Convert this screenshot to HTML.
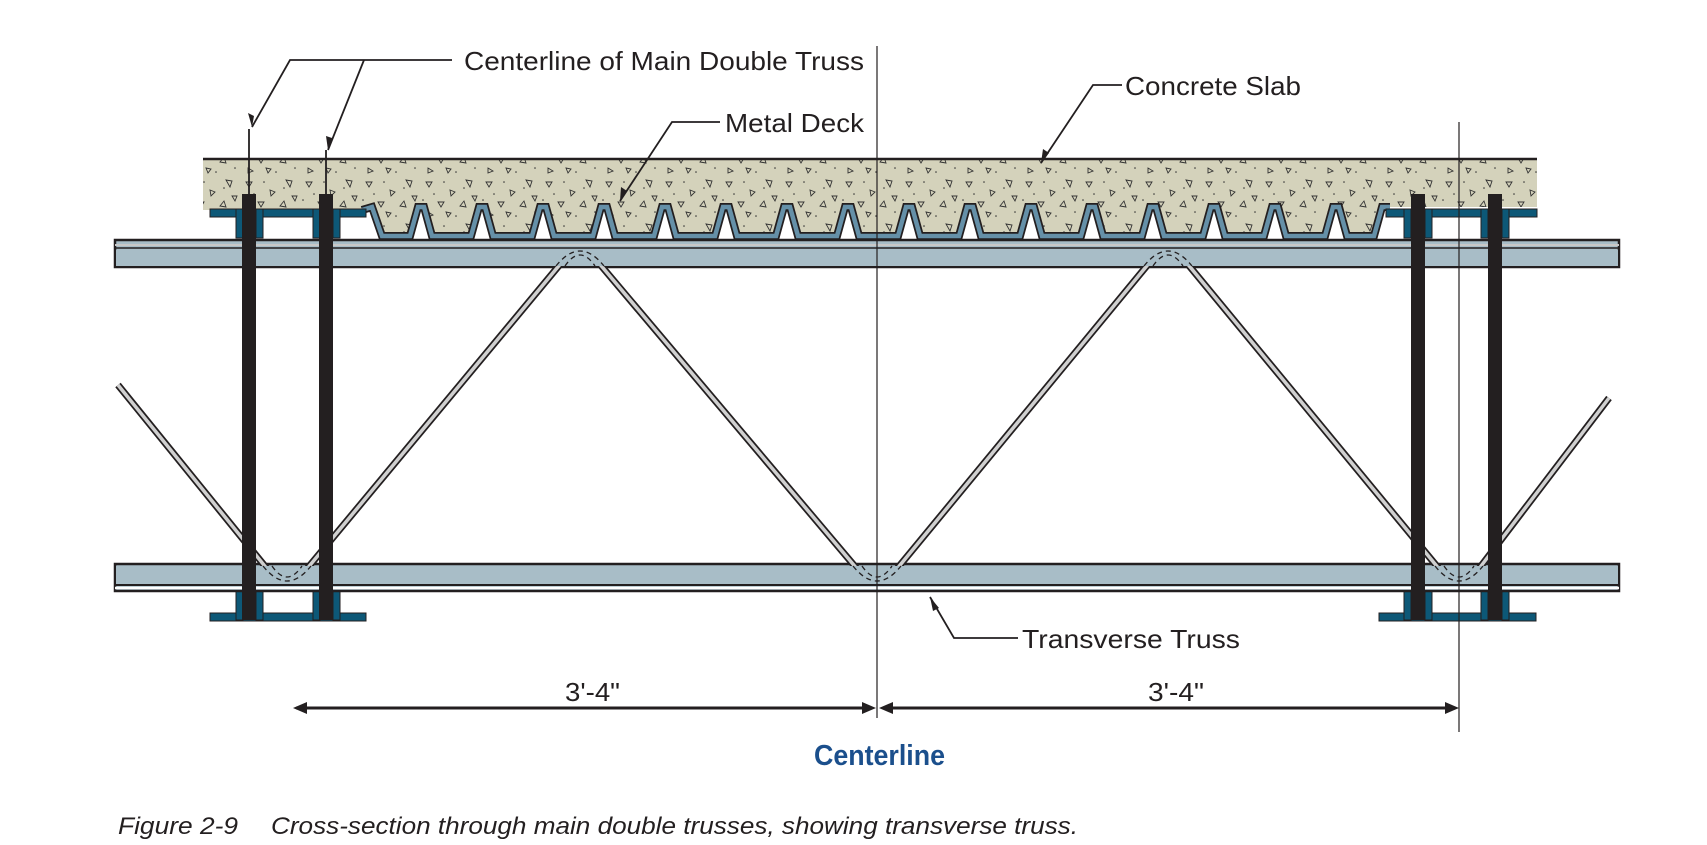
<!DOCTYPE html>
<html><head><meta charset="utf-8"><style>
html,body{margin:0;padding:0;background:#fff;}
svg{display:block;}
text{font-family:"Liberation Sans",sans-serif;}
</style></head><body>
<svg width="1707" height="845" viewBox="0 0 1707 845" xmlns="http://www.w3.org/2000/svg">
<defs>
<pattern id="conc" width="60" height="44" patternUnits="userSpaceOnUse">
<rect width="60" height="44" fill="#d4d2bb"/>
<path d="M6 6l6 0-3 5z M30 14l5 2-4 4z M46 4l6 1-2 6z M18 26l6 0-3 5z M40 30l4-5 2 6z M8 36l5 3-5 2z M52 20l5 0-2 5z M26 36l5 1-3 4z" fill="none" stroke="#333" stroke-width="0.9"/>
<circle cx="24" cy="6" r="0.8" fill="#333"/><circle cx="14" cy="18" r="0.8" fill="#333"/><circle cx="36" cy="40" r="0.8" fill="#333"/><circle cx="55" cy="36" r="0.8" fill="#333"/><circle cx="3" cy="24" r="0.8" fill="#333"/><circle cx="44" cy="12" r="0.8" fill="#333"/>
</pattern>
</defs>
<!-- slab -->
<rect x="203" y="159" width="1334" height="78" fill="url(#conc)"/>
<line x1="203" y1="159" x2="1537" y2="159" stroke="#231f20" stroke-width="2.5"/>
<!-- white under deck -->
<path d="M362 210 L372 207 L382 236 L410 236 L418 207 L424 207 L432 236 L471 236 L479 207 L485 207 L493 236 L532 236 L540 207 L546 207 L554 236 L593 236 L601 207 L607 207 L615 236 L654 236 L662 207 L668 207 L676 236 L715 236 L723 207 L729 207 L737 236 L776 236 L784 207 L790 207 L798 236 L837 236 L845 207 L851 207 L859 236 L898 236 L906 207 L912 207 L920 236 L959 236 L967 207 L973 207 L981 236 L1020 236 L1028 207 L1034 207 L1042 236 L1081 236 L1089 207 L1095 207 L1103 236 L1142 236 L1150 207 L1156 207 L1164 236 L1203 236 L1211 207 L1217 207 L1225 236 L1264 236 L1272 207 L1278 207 L1286 236 L1325 236 L1333 207 L1339 207 L1347 236 L1374 236 L1382 207 L1390 207 L1540 207 L1540 240 L200 240 L200 210 Z" fill="#fff"/>
<g fill="none" stroke-linejoin="miter">
<path d="M362 210 L372 207 L382 236 L410 236 L418 207 L424 207 L432 236 L471 236 L479 207 L485 207 L493 236 L532 236 L540 207 L546 207 L554 236 L593 236 L601 207 L607 207 L615 236 L654 236 L662 207 L668 207 L676 236 L715 236 L723 207 L729 207 L737 236 L776 236 L784 207 L790 207 L798 236 L837 236 L845 207 L851 207 L859 236 L898 236 L906 207 L912 207 L920 236 L959 236 L967 207 L973 207 L981 236 L1020 236 L1028 207 L1034 207 L1042 236 L1081 236 L1089 207 L1095 207 L1103 236 L1142 236 L1150 207 L1156 207 L1164 236 L1203 236 L1211 207 L1217 207 L1225 236 L1264 236 L1272 207 L1278 207 L1286 236 L1325 236 L1333 207 L1339 207 L1347 236 L1374 236 L1382 207 L1390 207" stroke="#231f20" stroke-width="8"/>
<path d="M362 210 L372 207 L382 236 L410 236 L418 207 L424 207 L432 236 L471 236 L479 207 L485 207 L493 236 L532 236 L540 207 L546 207 L554 236 L593 236 L601 207 L607 207 L615 236 L654 236 L662 207 L668 207 L676 236 L715 236 L723 207 L729 207 L737 236 L776 236 L784 207 L790 207 L798 236 L837 236 L845 207 L851 207 L859 236 L898 236 L906 207 L912 207 L920 236 L959 236 L967 207 L973 207 L981 236 L1020 236 L1028 207 L1034 207 L1042 236 L1081 236 L1089 207 L1095 207 L1103 236 L1142 236 L1150 207 L1156 207 L1164 236 L1203 236 L1211 207 L1217 207 L1225 236 L1264 236 L1272 207 L1278 207 L1286 236 L1325 236 L1333 207 L1339 207 L1347 236 L1374 236 L1382 207 L1390 207" stroke="#6590a8" stroke-width="4.5"/>
</g>
<g fill="#0d5877" stroke="#231f20" stroke-width="1">
<rect x="210" y="209" width="156" height="8"/>
<rect x="236" y="209" width="7" height="29"/><rect x="256" y="209" width="7" height="29"/>
<rect x="313" y="209" width="7" height="29"/><rect x="333" y="209" width="7" height="29"/>
<rect x="1386" y="209" width="151" height="8"/>
<rect x="1404" y="209" width="7" height="29"/><rect x="1425" y="209" width="7" height="29"/>
<rect x="1481" y="209" width="7" height="29"/><rect x="1502" y="209" width="7" height="29"/>
<rect x="210" y="613" width="156" height="8"/>
<rect x="236" y="590" width="7" height="30"/><rect x="256" y="590" width="7" height="30"/>
<rect x="313" y="590" width="7" height="30"/><rect x="333" y="590" width="7" height="30"/>
<rect x="1379" y="613" width="157" height="8"/>
<rect x="1404" y="590" width="7" height="30"/><rect x="1425" y="590" width="7" height="30"/>
<rect x="1481" y="590" width="7" height="30"/><rect x="1502" y="590" width="7" height="30"/>
</g>
<rect x="115" y="240" width="1504" height="27" fill="#a8bdc7" stroke="#231f20" stroke-width="2.5"/>
<line x1="115" y1="245" x2="1619" y2="245" stroke="#c8c8c8" stroke-width="2"/>
<line x1="115" y1="248" x2="1619" y2="248" stroke="#231f20" stroke-width="1.5"/>
<rect x="115" y="564" width="1504" height="27" fill="#a8bdc7" stroke="#231f20" stroke-width="2.5"/>
<line x1="115" y1="585" x2="1619" y2="585" stroke="#231f20" stroke-width="2"/>
<line x1="115" y1="588" x2="1619" y2="588" stroke="#fff" stroke-width="2.5"/>
<g fill="none" stroke-linejoin="round">
<path d="M118 385 L268 570 Q287 592 306 570 L562 262 Q580 246 598 262 L858 570 Q877 592 896 570 L1150 262 Q1168 246 1186 262 L1440 570 Q1459 592 1478 570 L1609 398" stroke="#231f20" stroke-width="7"/>
<path d="M118 385 L268 570 Q287 592 306 570 L562 262 Q580 246 598 262 L858 570 Q877 592 896 570 L1150 262 Q1168 246 1186 262 L1440 570 Q1459 592 1478 570 L1609 398" stroke="#d0d0d0" stroke-width="3.5"/>
</g>
<g fill="#a8bdc7">
<rect x="116" y="566" width="1502" height="18"/>
<rect x="116" y="250" width="1502" height="16"/>
</g>
<g fill="none" stroke="#231f20" stroke-width="1.3" stroke-dasharray="5,4">
<path d="M263 566 Q287 596 311 566 M272 566 Q287 588 302 566"/>
<path d="M853 566 Q877 596 901 566 M862 566 Q877 588 892 566"/>
<path d="M1435 566 Q1459 596 1483 566 M1444 566 Q1459 588 1474 566"/>
<path d="M556 266 Q580 236 604 266 M565 266 Q580 244 595 266"/>
<path d="M1144 266 Q1168 236 1192 266 M1153 266 Q1168 244 1183 266"/>
</g>
<g fill="#231f20">
<rect x="242" y="194" width="14" height="426"/>
<rect x="319" y="194" width="14" height="426"/>
<rect x="1411" y="194" width="14" height="426"/>
<rect x="1488" y="194" width="14" height="426"/>
</g>
<line x1="877" y1="46" x2="877" y2="718" stroke="#231f20" stroke-width="1.2"/>
<line x1="1459" y1="122" x2="1459" y2="732" stroke="#231f20" stroke-width="1.2"/>
<g fill="none" stroke="#231f20" stroke-width="1.8">
<path d="M452 60 L290 60 L252 127"/>
<path d="M364 60 L328 150"/>
<line x1="249" y1="129" x2="249" y2="194"/>
<line x1="326" y1="150" x2="326" y2="194"/>
<path d="M720 122 L672 122 L620 201"/>
<path d="M1122 85 L1093 85 L1041 163"/>
<path d="M1018 638 L954 638 L930 597"/>
<line x1="296" y1="708" x2="866" y2="708" stroke-width="3"/>
<line x1="888" y1="708" x2="1450" y2="708" stroke-width="3"/>
</g>
<g fill="#231f20">
<polygon points="252,127 248,113 254,116"/>
<polygon points="328,150 326,136 332,138"/>
<polygon points="620,201 621,187 627,191"/>
<polygon points="1041,163 1043,149 1049,153"/>
<polygon points="930,597 939,608 933,611"/>
<polygon points="293,708 307,702 307,714"/>
<polygon points="876,708 862,702 862,714"/>
<polygon points="879,708 893,702 893,714"/>
<polygon points="1459,708 1445,702 1445,714"/>
</g>
<g font-size="26" fill="#231f20" lengthAdjust="spacingAndGlyphs">
<text x="464" y="70" textLength="400" lengthAdjust="spacingAndGlyphs">Centerline of Main Double Truss</text>
<text x="725" y="132" textLength="139" lengthAdjust="spacingAndGlyphs">Metal Deck</text>
<text x="1125" y="95" textLength="176" lengthAdjust="spacingAndGlyphs">Concrete Slab</text>
<text x="1022" y="648" textLength="218" lengthAdjust="spacingAndGlyphs">Transverse Truss</text>
<text x="565" y="701" textLength="55" lengthAdjust="spacingAndGlyphs">3'-4"</text>
<text x="1148" y="701" textLength="56" lengthAdjust="spacingAndGlyphs">3'-4"</text>
</g>
<text x="814" y="765" font-size="29" font-weight="bold" fill="#1b4f8c" textLength="131" lengthAdjust="spacingAndGlyphs">Centerline</text>
<text x="118" y="834" font-size="24" font-style="italic" fill="#231f20" textLength="120" lengthAdjust="spacingAndGlyphs">Figure 2-9</text>
<text x="271" y="834" font-size="24" font-style="italic" fill="#231f20" textLength="807" lengthAdjust="spacingAndGlyphs">Cross-section through main double trusses, showing transverse truss.</text>
</svg>
</body></html>
